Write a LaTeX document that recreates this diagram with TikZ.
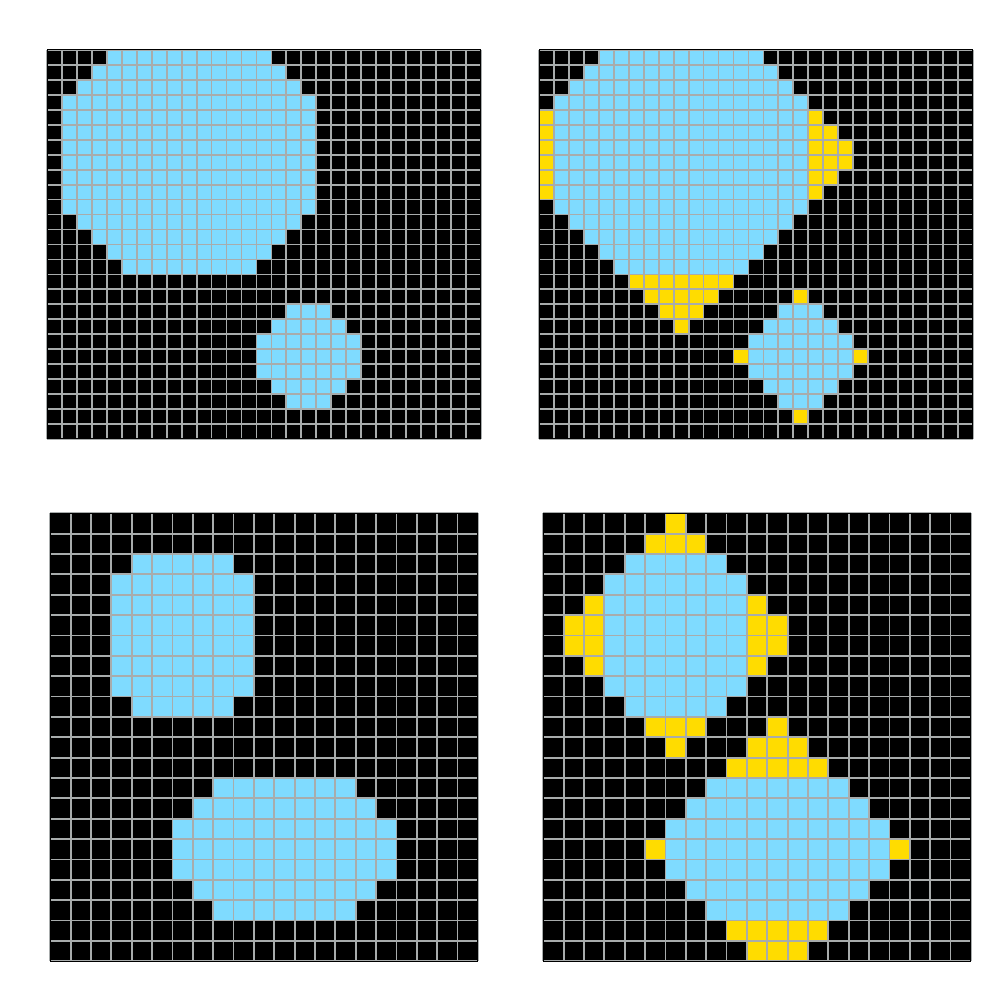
\documentclass[tikz,border=0pt]{standalone}
\definecolor{cellblue}{HTML}{7FDBFF}
\definecolor{cellyellow}{HTML}{FFDC00}
\definecolor{gridgray}{HTML}{A8ACAC}
\tikzset{
  gridline/.style={draw=gridgray, line width=0.9pt},
  frameline/.style={draw=black, line width=0.5pt},
}
\newcommand{\bluetop}{0/4/14,1/3/15,2/2/16,3/1/17,4/1/17,5/1/17,6/1/17,7/1/17,8/1/17,9/1/17,10/1/17,11/2/16,12/3/15,13/4/14,14/5/13,17/16/18,18/15/19,19/14/20,20/14/20,21/14/20,22/15/19,23/16/18}
\newcommand{\bluebot}{2/4/8,3/3/9,4/3/9,5/3/9,6/3/9,7/3/9,8/3/9,9/4/8,13/8/14,14/7/15,15/6/16,16/6/16,17/6/16,18/7/15,19/8/14}
\newcommand{\yellowtr}{4/0/0,5/0/0,6/0/0,7/0/0,8/0/0,9/0/0,4/18/18,5/18/19,6/18/20,7/18/20,8/18/19,9/18/18,15/6/12,16/7/11,17/8/10,18/9/9,16/17/17,20/13/13,20/21/21,24/17/17}
\newcommand{\yellowbr}{0/6/6,1/5/7,4/2/2,4/10/10,5/1/2,5/10/11,6/1/2,6/10/11,7/2/2,7/10/10,10/5/7,10/11/11,11/6/6,11/10/12,12/9/13,16/5/5,16/17/17,20/9/13,21/10/12}
% #1 x0 px, #2 y0 px, #3 cell px, #4 ncols, #5 nrows, #6 blue runs macro, #7 yellow runs macro or empty
\newcommand{\pixpanel}[7]{%
  \pgfmathsetmacro\pcs{#3*0.5}%
  \def\pytest{#7}%
  \begin{scope}[shift={(#1*0.5pt,-#2*0.5pt)},x=\pcs pt,y=-\pcs pt]
    \fill[black] (0,0) rectangle (#4,#5);
    \foreach \rw/\ca/\cb in #6 {\fill[cellblue] (\ca,\rw) rectangle (\cb+1,\rw+1);}
    \ifx\pytest\empty\else
      \foreach \rw/\ca/\cb in #7 {\fill[cellyellow] (\ca,\rw) rectangle (\cb+1,\rw+1);}
    \fi
    \foreach \i in {0,...,#4} {\draw[gridline] (\i,0) -- (\i,#5);}
    \foreach \j in {0,...,#5} {\draw[gridline] (0,\j) -- (#4,\j);}
    \draw[frameline] (0,0) rectangle (#4,#5);
  \end{scope}}
\begin{document}
\begin{tikzpicture}[x=0.5pt,y=-0.5pt]
  \useasboundingbox (0,0) rectangle (1000,1000);
  \fill[white] (0,0) rectangle (1000,1000);
  % top left
  \pixpanel{47}{50}{14.96}{29}{26}{\bluetop}{}
  % top right
  \pixpanel{539}{50}{14.96}{29}{26}{\bluetop}{\yellowtr}
  % bottom left
  \pixpanel{50.3}{513.3}{20.36}{21}{22}{\bluebot}{}
  % bottom right
  \pixpanel{543.3}{513.3}{20.36}{21}{22}{\bluebot}{\yellowbr}
\end{tikzpicture}
\end{document}
